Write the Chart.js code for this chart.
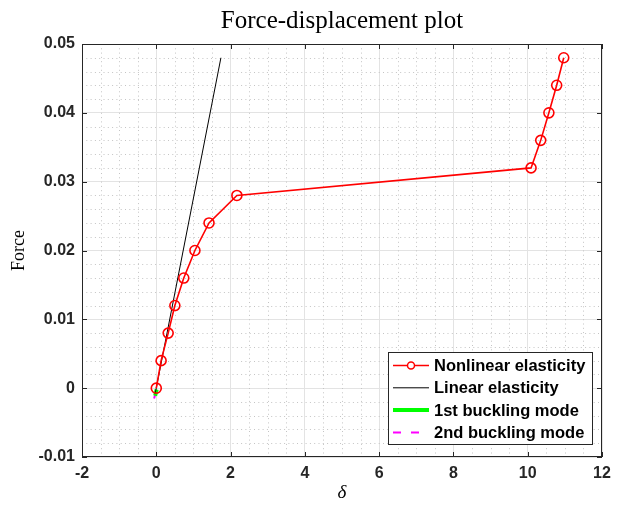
<!DOCTYPE html>
<html>
<head>
<meta charset="utf-8">
<script src="https://cdn.jsdelivr.net/npm/chart.js@4.4.1/dist/chart.umd.min.js"></script>
<style>
  html, body { margin: 0; padding: 0; background: #fff; }
  #wrap { width: 619px; height: 505px; }
</style>
</head>
<body>
<div id="wrap"><canvas id="fdChart" width="619" height="505"></canvas></div>
<script>
// Nonlinear elasticity path (displacement, force)
const nonlinDelta = [0, 0.13, 0.32, 0.5, 0.74, 1.04, 1.42, 2.17, 10.09, 10.35, 10.57, 10.78, 10.97];
const nonlinForce = [0, 0.004, 0.008, 0.012, 0.016, 0.02, 0.024, 0.028, 0.032, 0.036, 0.04, 0.044, 0.048];
// Linear elasticity reference line
const linDelta = [-0.03, 1.74];
const linForce = [-0.0008, 0.048];
// Buckling mode segments
const mode1Delta = [0.01, -0.03];
const mode1Force = [-0.0002, -0.0011];
const mode2Delta = [-0.01, -0.06];
const mode2Force = [-0.0006, -0.0015];

const xTicks = [-2, 0, 2, 4, 6, 8, 10, 12];
const yTicks = [-0.01, 0, 0.01, 0.02, 0.03, 0.04, 0.05];

function pts(xs, ys) {
    return xs.map((x, i) => ({ x: x, y: ys[i] }));
}

const TICK_FONT = { family: 'Liberation Sans, Arial, sans-serif', size: 16, weight: 'bold' };

// minor dotted grid, box outline and inward ticks
const frame = {
    id: 'frame',
    beforeDatasetsDraw(chart) {
        const { ctx, chartArea: a, scales: { x, y } } = chart;
        ctx.save();
        ctx.strokeStyle = '#c4c4c4';
        ctx.lineWidth = 1;
        ctx.setLineDash([1, 3.3]);
        for (let v = -2; v <= 12; v += 0.5) {
            if (Math.abs(v - Math.round(v / 2) * 2) < 1e-9) continue;
            const px = Math.round(x.getPixelForValue(v)) + 0.5;
            ctx.beginPath(); ctx.moveTo(px, a.top); ctx.lineTo(px, a.bottom); ctx.stroke();
        }
        for (let k = -5; k <= 25; k++) {
            if (k % 5 === 0) continue;
            const py = Math.round(y.getPixelForValue(k * 0.002)) + 0.5;
            ctx.beginPath(); ctx.moveTo(a.left, py); ctx.lineTo(a.right, py); ctx.stroke();
        }
        ctx.restore();
    },
    afterDatasetsDraw(chart) {
        const { ctx, chartArea: a, scales: { x, y } } = chart;
        ctx.save();
        ctx.strokeStyle = '#262626';
        ctx.lineWidth = 1;
        ctx.strokeRect(a.left + 0.5, a.top + 0.5, a.right - a.left - 1, a.bottom - a.top - 1);
        ctx.beginPath();
        xTicks.forEach(v => {
            const px = Math.round(x.getPixelForValue(v)) + 0.5;
            ctx.moveTo(px, a.bottom); ctx.lineTo(px, a.bottom - 5);
            ctx.moveTo(px, a.top); ctx.lineTo(px, a.top + 5);
        });
        yTicks.forEach(v => {
            const py = Math.round(y.getPixelForValue(v)) + 0.5;
            ctx.moveTo(a.left, py); ctx.lineTo(a.left + 5, py);
            ctx.moveTo(a.right, py); ctx.lineTo(a.right - 5, py);
        });
        ctx.stroke();

        // titles
        ctx.fillStyle = '#000';
        ctx.textAlign = 'center';
        ctx.textBaseline = 'middle';
        ctx.font = '25px "Liberation Serif", "Times New Roman", serif';
        ctx.fillText('Force-displacement plot', (a.left + a.right) / 2, 21);
        ctx.font = '18px "Liberation Serif", "Times New Roman", serif';
        ctx.save();
        ctx.translate(19, (a.top + a.bottom) / 2);
        ctx.rotate(-Math.PI / 2);
        ctx.fillText('Force', 0, 0);
        ctx.restore();
        ctx.font = 'italic 19px "Liberation Serif", "Times New Roman", serif';
        ctx.fillText('δ', (a.left + a.right) / 2, 493);
        ctx.restore();
    }
};

// legend box in the lower right corner of the plot
const boxLegend = {
    id: 'boxLegend',
    afterDraw(chart) {
        const { ctx } = chart;
        const left = 388, top = 352, w = 204, h = 92;
        ctx.save();
        ctx.fillStyle = '#fff';
        ctx.fillRect(left, top, w, h);
        ctx.strokeStyle = '#262626';
        ctx.lineWidth = 1;
        ctx.strokeRect(left + 0.5, top + 0.5, w, h);
        ctx.font = 'bold 16.5px "Liberation Sans", Arial, sans-serif';
        ctx.textBaseline = 'middle';
        ctx.textAlign = 'left';
        chart.data.datasets.forEach((ds, i) => {
            const cy = top + 13.5 + i * 22.3;
            ctx.save();
            ctx.strokeStyle = ds.borderColor;
            ctx.lineWidth = ds.borderWidth;
            ctx.setLineDash(ds.borderDash || []);
            ctx.beginPath(); ctx.moveTo(left + 5, cy); ctx.lineTo(left + 41, cy); ctx.stroke();
            if (ds.pointRadius > 0) {
                ctx.setLineDash([]);
                ctx.lineWidth = 1.5;
                ctx.fillStyle = '#fff';
                ctx.beginPath(); ctx.arc(left + 23, cy, 3.5, 0, Math.PI * 2); ctx.fill(); ctx.stroke();
            }
            ctx.restore();
            ctx.fillStyle = '#000';
            ctx.fillText(ds.label, left + 46, cy + 1);
        });
        ctx.restore();
    }
};

new Chart(document.getElementById('fdChart').getContext('2d'), {
    type: 'scatter',
    data: {
        datasets: [{
            label: 'Nonlinear elasticity',
            data: pts(nonlinDelta, nonlinForce),
            showLine: true,
            borderColor: '#ff0000',
            backgroundColor: 'rgba(0,0,0,0)',
            borderWidth: 1.6,
            pointRadius: 5,
            pointBorderWidth: 1.6,
            pointBorderColor: '#ff0000',
            pointBackgroundColor: 'rgba(0,0,0,0)'
        }, {
            label: 'Linear elasticity',
            data: pts(linDelta, linForce),
            showLine: true,
            borderColor: '#000000',
            borderWidth: 1,
            pointRadius: 0
        }, {
            label: '1st buckling mode',
            data: pts(mode1Delta, mode1Force),
            showLine: true,
            borderColor: '#00ff00',
            borderWidth: 4,
            pointRadius: 0
        }, {
            label: '2nd buckling mode',
            data: pts(mode2Delta, mode2Force),
            showLine: true,
            borderColor: '#ff00ff',
            borderWidth: 2,
            borderDash: [8, 10],
            pointRadius: 0
        }]
    },
    options: {
        responsive: false,
        animation: false,
        layout: { padding: { top: 44, right: 17, left: 0, bottom: 0 } },
        plugins: {
            legend: { display: false },
            tooltip: { enabled: false }
        },
        scales: {
            x: {
                type: 'linear',
                min: -2, max: 12,
                afterBuildTicks: (s) => { s.ticks = xTicks.map(v => ({ value: v })); },
                afterFit: (s) => { s.height = 48; },
                grid: { color: '#e3e3e3', drawTicks: false },
                border: { display: false },
                ticks: { color: '#262626', font: TICK_FONT, padding: 7 }
            },
            y: {
                type: 'linear',
                min: -0.01, max: 0.05,
                afterBuildTicks: (s) => { s.ticks = yTicks.map(v => ({ value: v })); },
                afterFit: (s) => { s.width = 82; },
                grid: { color: '#e3e3e3', drawTicks: false },
                border: { display: false },
                ticks: {
                    color: '#262626', font: TICK_FONT, padding: 7,
                    callback: (v) => String(Number(v.toFixed(3)))
                }
            }
        }
    },
    plugins: [frame, boxLegend]
});
</script>
</body>
</html>
